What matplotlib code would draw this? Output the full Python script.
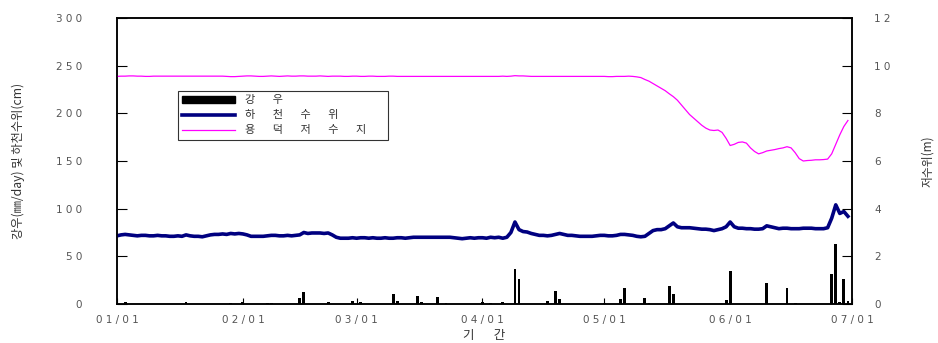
import matplotlib
matplotlib.use("Agg")
from matplotlib import pyplot as plt
from matplotlib.patches import Patch
from matplotlib.lines import Line2D

plt.rcParams['font.family'] = ['Noto Sans CJK KR', 'DejaVu Sans']

# day index 0 = 01/01, 181 = 07/01
month_days = [0, 31, 59, 90, 120, 151, 181]
month_labels = ["01/01", "02/01", "03/01", "04/01", "05/01", "06/01", "07/01"]

# rainfall (mm/day)
rain_day = [2, 17, 28, 31, 37, 38, 45, 46, 52, 58, 60, 68, 69, 74, 75, 79, 81, 90, 92,
            95, 98, 99, 106, 108, 109, 120, 124, 125, 130, 131, 136, 137, 150, 151,
            160, 165, 167, 176, 177, 178, 179, 180]
rain_mm = [2.5, 2, 1, 2, 1, 1, 6, 13, 2, 3, 2, 10, 3, 8, 2, 7, 1, 2, 1,
           2, 37, 26, 3, 14, 5.5, 1, 5.5, 17, 6, 1, 18.5, 10, 4, 35,
           22, 17, 1, 31.5, 63, 2, 26, 3]

# river level (cm), daily
river_cm = [
    71.5, 72.5, 73, 72.5, 72, 71.5, 72, 72, 71.5, 71.5,
    72, 71.5, 71.5, 71, 71, 71.5, 71, 72.5, 71.5, 71,
    71, 70.5, 71.5, 72.5, 73, 73, 73.5, 73, 74, 73.5,
    74, 73.5, 72.5, 71, 71, 71, 71, 71.5, 72, 72,
    71.5, 71.5, 72, 71.5, 72, 72.5, 75, 74, 74.5, 74.5,
    74.5, 74, 74.5, 72.5, 70, 69, 69, 69, 69.5, 69,
    69.5, 69.5, 69, 69.5, 69, 69, 69.5, 69, 69, 69.5,
    69.5, 69, 69.5, 70, 70, 70, 70, 70, 70, 70,
    70, 70, 70, 69.5, 69, 68.5, 69, 69.5, 69, 69.5,
    69.5, 69, 70, 69.5, 70, 69, 70, 75, 86, 78,
    76, 75.5, 74, 73, 72, 72, 71.5, 72, 73, 74,
    73, 72, 72, 71.5, 71, 71, 71, 71, 71.5, 72,
    72, 71.5, 71.5, 72, 73, 73, 72.5, 72, 71, 70.5,
    71, 74, 77, 78, 78, 79, 82, 85, 81, 80,
    80, 80, 79.5, 79, 78.5, 78.5, 78, 77, 78, 79,
    81, 86, 81, 79.5, 79.5, 79, 79, 78.5, 78.5, 79,
    82, 81, 80, 79, 79.5, 79.5, 79, 79, 79, 79.5,
    79.5, 79.5, 79, 79, 79, 80, 90, 104, 95, 97, 92,
]

# reservoir level (m), daily
reservoir_m = [
    9.55, 9.56, 9.56, 9.57, 9.57, 9.56, 9.56, 9.55, 9.55, 9.56,
    9.56, 9.56, 9.56, 9.56, 9.56, 9.56, 9.56, 9.56, 9.56, 9.56,
    9.56, 9.56, 9.56, 9.56, 9.56, 9.56, 9.56, 9.55, 9.54, 9.54,
    9.55, 9.56, 9.57, 9.57, 9.56, 9.55, 9.55, 9.56, 9.57, 9.56,
    9.55, 9.56, 9.57, 9.56, 9.56, 9.57, 9.57, 9.56, 9.56, 9.56,
    9.57, 9.56, 9.55, 9.56, 9.56, 9.56, 9.55, 9.55, 9.56, 9.56,
    9.55, 9.55, 9.56, 9.56, 9.55, 9.55, 9.55, 9.56, 9.56, 9.55,
    9.55, 9.55, 9.55, 9.55, 9.55, 9.55, 9.55, 9.55, 9.55, 9.55,
    9.55, 9.55, 9.55, 9.55, 9.55, 9.55, 9.55, 9.55, 9.55, 9.55,
    9.55, 9.55, 9.55, 9.55, 9.55, 9.56, 9.55, 9.56, 9.58, 9.57,
    9.57, 9.56, 9.55, 9.55, 9.55, 9.55, 9.55, 9.55, 9.55, 9.55,
    9.55, 9.55, 9.55, 9.55, 9.55, 9.55, 9.55, 9.55, 9.55, 9.55,
    9.55, 9.54, 9.54, 9.55, 9.55, 9.55, 9.56, 9.55, 9.53, 9.5,
    9.42, 9.35, 9.25, 9.15, 9.05, 8.95, 8.82, 8.7, 8.55, 8.35,
    8.15, 7.95, 7.8, 7.65, 7.5, 7.38, 7.3, 7.28, 7.3, 7.2,
    6.95, 6.65, 6.7, 6.78, 6.8, 6.75, 6.55, 6.4, 6.3, 6.35,
    6.42, 6.45, 6.48, 6.52, 6.55, 6.6, 6.55, 6.35, 6.1, 6.0,
    6.02, 6.03, 6.05, 6.05, 6.06, 6.08, 6.3, 6.7, 7.1, 7.45, 7.7,
]

left_ticks = [0, 50, 100, 150, 200, 250, 300]
right_ticks = [0, 2, 4, 6, 8, 10, 12]


def spaced(s, gap=" "):
    return gap.join(s)


fig = plt.figure(figsize=(9.38, 3.43), dpi=100)
ax = fig.add_axes([117 / 938, 39 / 343, 735 / 938, 286 / 343])
ax2 = ax.twinx()

ax.bar(rain_day, rain_mm, width=0.7, color="black", zorder=2)
ax.plot(range(len(river_cm)), river_cm, color="#000080", lw=2.6, zorder=3)
ax2.plot(range(len(reservoir_m)), reservoir_m, color="#ff00ff", lw=0.9)

ax.set_xlim(0, 181)
ax.set_ylim(0, 300)
ax2.set_ylim(0, 12)

tick_col = "#555555"
tick_font = dict(family="DejaVu Sans", size=7.5)
ax.set_xticks(month_days)
ax.set_xticklabels([spaced(m) for m in month_labels], color=tick_col, fontdict=tick_font)
ax.set_yticks(left_ticks)
ax.set_yticklabels([spaced(str(v)) for v in left_ticks], color=tick_col, fontdict=tick_font)
ax2.set_yticks(right_ticks)
ax2.set_yticklabels([spaced(str(v)) for v in right_ticks], color=tick_col, fontdict=tick_font)

ax.tick_params(axis="x", direction="in", length=4, pad=8, width=0.8)
ax.tick_params(axis="y", direction="in", length=7, pad=25, width=0.8)
ax2.tick_params(axis="y", direction="in", length=7, pad=16, width=0.8)

for a in (ax, ax2):
    for sp in a.spines.values():
        sp.set_linewidth(1.1)

ax.set_ylabel("강우(㎜/day) 및 하천수위(cm)", fontsize=8.8, color="#333333", labelpad=22)
ax2.set_ylabel("저수위(m)", fontsize=8.5, color="#333333", rotation=90, labelpad=22)
ax.set_xlabel("기       간", fontsize=9, color="#333333", labelpad=3)

handles = [
    Patch(facecolor="black", edgecolor="black"),
    Line2D([], [], color="#000080", lw=2.6),
    Line2D([], [], color="#ff00ff", lw=0.9),
]
gap = "       "
labels = [spaced("강우", gap), spaced("하천수위", gap), spaced("용덕저수지", gap) + "       "]
leg = ax.legend(handles, labels, loc="upper left", bbox_to_anchor=(0.083, 0.745),
                fontsize=8, frameon=True, fancybox=False, edgecolor="black",
                handlelength=4.7, handleheight=0.6, labelspacing=0.45,
                borderpad=0.4, borderaxespad=0, handletextpad=0.9)
leg.get_frame().set_linewidth(0.8)
for t in leg.get_texts():
    t.set_color("#333333")

fig.savefig("out.png", dpi=100)
